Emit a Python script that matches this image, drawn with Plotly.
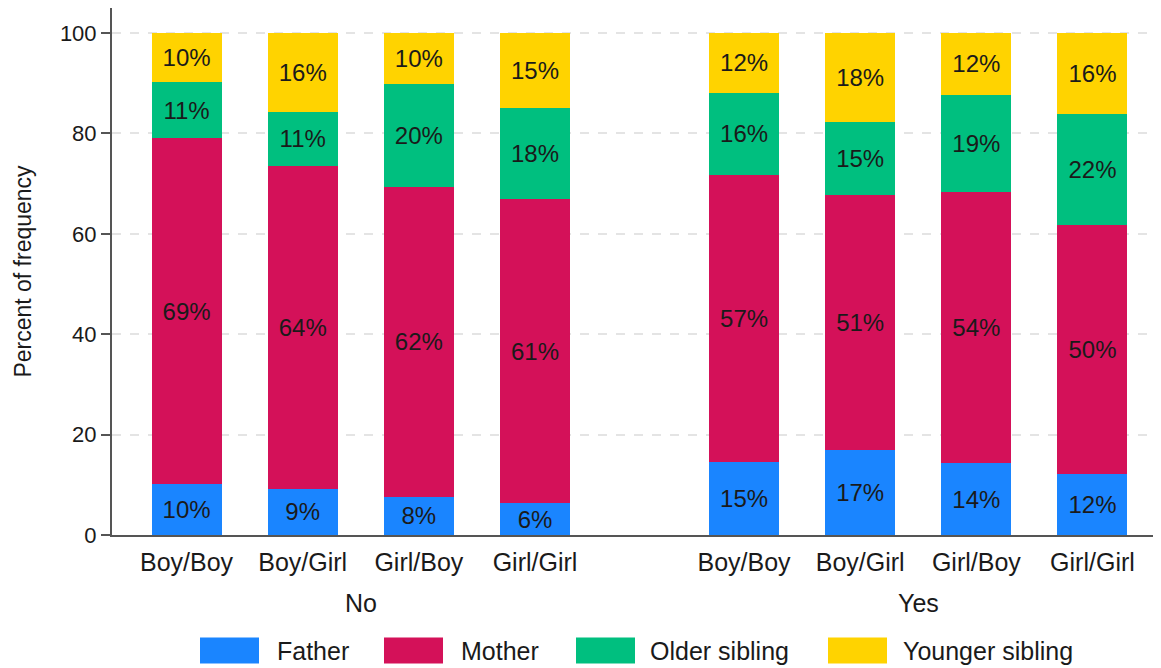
import plotly.graph_objects as go

# ---------------- data ----------------
categories = ["Boy/Boy", "Boy/Girl", "Girl/Boy", "Girl/Girl"]
groups = ["No", "Yes"]
series_names = ["Father", "Mother", "Older sibling", "Younger sibling"]

father = [10.2, 9.2, 7.6, 6.3, 14.6, 16.9, 14.3, 12.1]
mother = [68.8, 64.4, 61.8, 60.6, 57.2, 50.8, 54.0, 49.7]
older_sibling = [11.2, 10.7, 20.4, 18.2, 16.3, 14.6, 19.4, 22.1]
younger_sibling = [9.8, 15.7, 10.2, 14.9, 11.9, 17.7, 12.3, 16.1]

y_ticks = [0, 20, 40, 60, 80, 100]

colors = ["#1A85FF", "#D41159", "#00BF7F", "#FFD300"]

# ---------------- layout geometry ----------------
# the page body has an 8px margin, so the figure is drawn 8px in from the top-left
OFF = 8
W, H = 1161 - OFF, 668 - OFF
M_L, M_R, M_T, M_B = 112 - OFF, 0, 0, 668 - 535
group_offset = 4.8
x_pos = [i for i in range(4)] + [group_offset + i for i in range(4)]
tick_text = categories + categories
X_RANGE = [-0.642, 8.39]
Y_RANGE = [0, 104.98]

font_family = "Liberation Sans, Arial, sans-serif"
text_color = "#1a1a1a"

fig = go.Figure()
all_series = [father, mother, older_sibling, younger_sibling]
for name, vals, col in zip(series_names, all_series, colors):
    fig.add_trace(go.Bar(
        x=x_pos, y=vals, name=name,
        marker=dict(color=col, line=dict(width=0)),
        width=0.603,
        text=[f"{round(v)}%" for v in vals],
        textposition="inside",
        insidetextanchor="middle",
        textangle=0,
        constraintext="none",
        textfont=dict(size=24, color=text_color, family=font_family),
        showlegend=False,
        hovertemplate=name + ": %{y:.1f}%<extra></extra>",
    ))

plot_w = W - M_L - M_R
plot_h = H - M_T - M_B


def px_to_paper_x(page_px):
    return (page_px - OFF - M_L) / plot_w


def py_to_paper_y(page_py):
    return (H - M_B - (page_py - OFF)) / plot_h


annotations = []
shapes = []

# group labels
for gi, g in enumerate(groups):
    centers = x_pos[gi * 4:(gi + 1) * 4]
    cx = sum(centers) / 4
    annotations.append(dict(
        x=cx, xref="x", y=py_to_paper_y(603), yref="paper",
        text=g, showarrow=False, xanchor="center", yanchor="middle",
        font=dict(size=25, color=text_color, family=font_family),
    ))

# manual legend (large swatches like the reference)
legend_swatch_left = [200, 384, 576, 828]
legend_text_left = [275, 459, 648, 901]
leg_cy = 650.5
for name, col, sx, tx in zip(series_names, colors, legend_swatch_left, legend_text_left):
    shapes.append(dict(
        type="rect", xref="paper", yref="paper",
        x0=px_to_paper_x(sx), x1=px_to_paper_x(sx + 59),
        y0=py_to_paper_y(leg_cy + 13), y1=py_to_paper_y(leg_cy - 13),
        fillcolor=col, line=dict(width=0),
    ))
    annotations.append(dict(
        x=px_to_paper_x(tx), xref="paper", y=py_to_paper_y(leg_cy), yref="paper",
        text=name, showarrow=False, xanchor="left", yanchor="middle",
        font=dict(size=25, color=text_color, family=font_family),
    ))

fig.update_layout(
    width=W, height=H,
    barmode="stack",
    margin=dict(l=M_L, r=M_R, t=M_T, b=M_B, autoexpand=False),
    paper_bgcolor="white", plot_bgcolor="white",
    font=dict(family=font_family, color=text_color),
    showlegend=False,
    annotations=annotations,
    shapes=shapes,
    xaxis=dict(
        range=X_RANGE,
        tickmode="array", tickvals=x_pos, ticktext=tick_text,
        tickfont=dict(size=25, color=text_color, family=font_family),
        ticks="", showgrid=False, zeroline=False,
        showline=True, linecolor="#555555", linewidth=2,
        ticklabelstandoff=4,
    ),
    yaxis=dict(
        range=Y_RANGE,
        tickmode="array", tickvals=y_ticks,
        tickfont=dict(size=22, color=text_color, family=font_family),
        ticks="outside", ticklen=9, tickwidth=2, tickcolor="#555555",
        showgrid=True, gridcolor="#e4e4e4", griddash="dash", gridwidth=1.5,
        zeroline=False,
        showline=True, linecolor="#555555", linewidth=2,
        title=dict(text="Percent of frequency",
                   font=dict(size=23, color=text_color, family=font_family),
                   standoff=22),
    ),
)

fig.write_html("out.html")
